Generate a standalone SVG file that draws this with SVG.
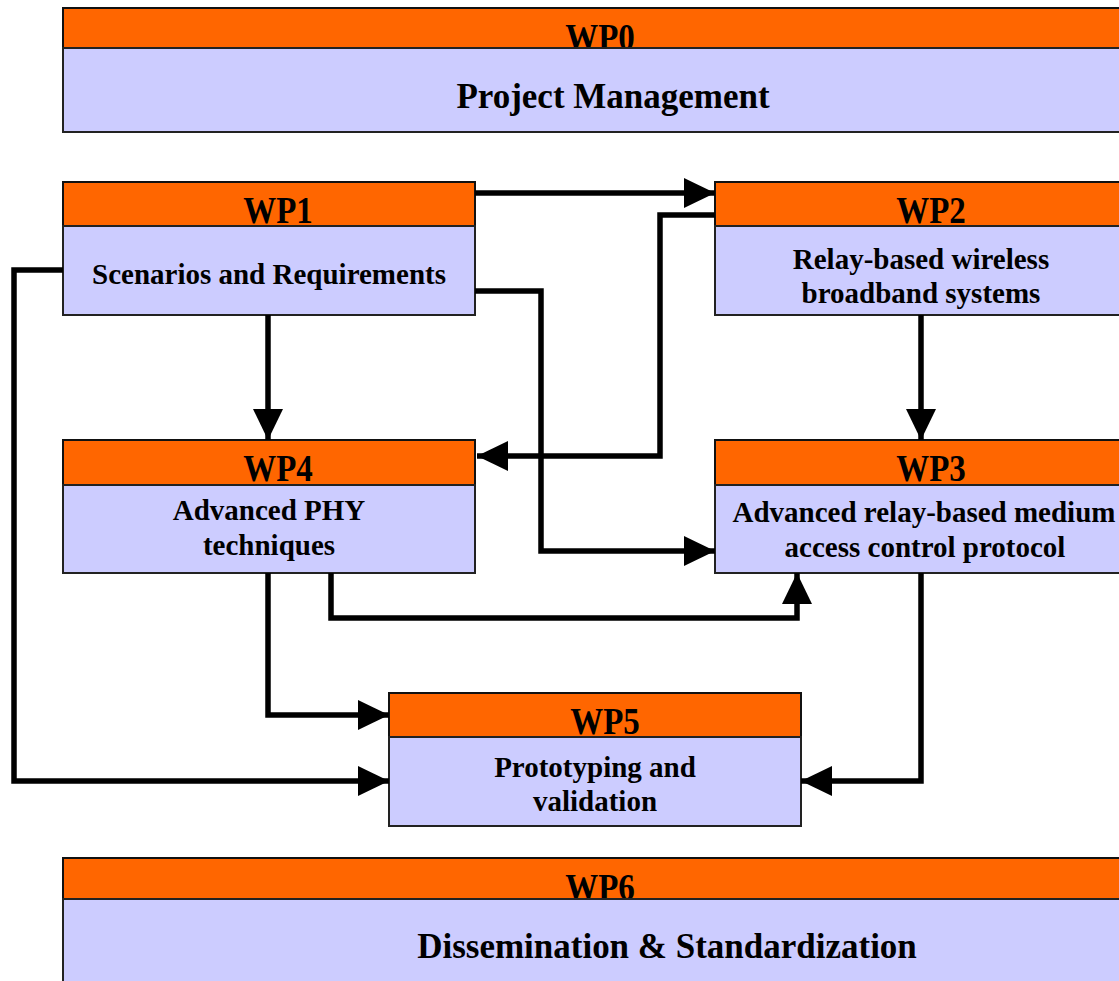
<svg xmlns="http://www.w3.org/2000/svg" width="1119" height="981" viewBox="0 0 1119 981">
<style>
.hd{fill:#FF6600;stroke:#111;stroke-width:2}
.bd{fill:#CCCCFF;stroke:#222;stroke-width:2}
.t{font-family:"Liberation Serif","Times New Roman",serif;font-weight:bold;fill:#000;text-anchor:middle}
.wp{font-size:33px}
.lb{font-size:29px}
.big{font-size:35px}
.c{fill:none;stroke:#000;stroke-width:5.5;stroke-linejoin:miter}
</style>
<defs>
<marker id="ah" viewBox="0 0 31 30" refX="31" refY="15" markerWidth="31" markerHeight="30" markerUnits="userSpaceOnUse" orient="auto">
<path d="M0,0 L31,15 L0,30 Z" fill="#000"/>
</marker>
</defs>
<rect width="1119" height="981" fill="#fff"/>
<g id="wp0">
<rect class="hd" x="63" y="8" width="1100" height="40"/>
<text class="t wp" transform="translate(600,50) scale(1,1.12)">WP0</text>
<rect class="bd" x="63" y="48" width="1100" height="84"/>
<text class="t big" transform="translate(613,108) scale(1,1.05)">Project Management</text>
</g>
<g id="wp1">
<rect class="hd" x="63" y="182" width="412" height="44"/>
<text class="t wp" transform="translate(278,223) scale(1,1.12)">WP1</text>
<rect class="bd" x="63" y="226" width="412" height="89"/>
<text class="t lb" x="269" y="284">Scenarios and Requirements</text>
</g>
<g id="wp2">
<rect class="hd" x="715" y="182" width="412" height="44"/>
<text class="t wp" transform="translate(931,223) scale(1,1.12)">WP2</text>
<rect class="bd" x="715" y="226" width="412" height="89"/>
<text class="t lb" x="921" y="269">Relay-based wireless</text>
<text class="t lb" x="921" y="303">broadband systems</text>
</g>
<g id="wp4">
<rect class="hd" x="63" y="440" width="412" height="45"/>
<text class="t wp" transform="translate(278,481) scale(1,1.12)">WP4</text>
<rect class="bd" x="63" y="485" width="412" height="88"/>
<text class="t lb" x="269" y="520">Advanced PHY</text>
<text class="t lb" x="269" y="555">techniques</text>
</g>
<g id="wp3">
<rect class="hd" x="715" y="440" width="412" height="45"/>
<text class="t wp" transform="translate(931,481) scale(1,1.12)">WP3</text>
<rect class="bd" x="715" y="485" width="412" height="88"/>
<text class="t lb" x="924" y="522">Advanced relay-based medium</text>
<text class="t lb" x="925" y="557">access control protocol</text>
</g>
<g id="wp5">
<rect class="hd" x="389" y="693" width="412" height="44"/>
<text class="t wp" transform="translate(605,734) scale(1,1.12)">WP5</text>
<rect class="bd" x="389" y="737" width="412" height="89"/>
<text class="t lb" x="595" y="777">Prototyping and</text>
<text class="t lb" x="595" y="811">validation</text>
</g>
<g id="wp6">
<rect class="hd" x="63" y="858" width="1100" height="41"/>
<text class="t wp" transform="translate(600,900) scale(1,1.12)">WP6</text>
<rect class="bd" x="63" y="899" width="1100" height="100"/>
<text class="t big" transform="translate(667,958) scale(1,1.05)">Dissemination &amp; Standardization</text>
</g>
<g id="connectors">
<path class="c" d="M475,193 H715" marker-end="url(#ah)"/>
<path class="c" d="M715,215 H660 V456 H477" marker-end="url(#ah)"/>
<path class="c" d="M475,291 H541 V551 H715" marker-end="url(#ah)"/>
<path class="c" d="M268,315 V440" marker-end="url(#ah)"/>
<path class="c" d="M921,315 V440" marker-end="url(#ah)"/>
<path class="c" d="M331,573 V618 H797 V573" marker-end="url(#ah)"/>
<path class="c" d="M268,573 V715 H389" marker-end="url(#ah)"/>
<path class="c" d="M63,270 H14 V781 H389" marker-end="url(#ah)"/>
<path class="c" d="M921,573 V781 H801" marker-end="url(#ah)"/>
</g>
</svg>
